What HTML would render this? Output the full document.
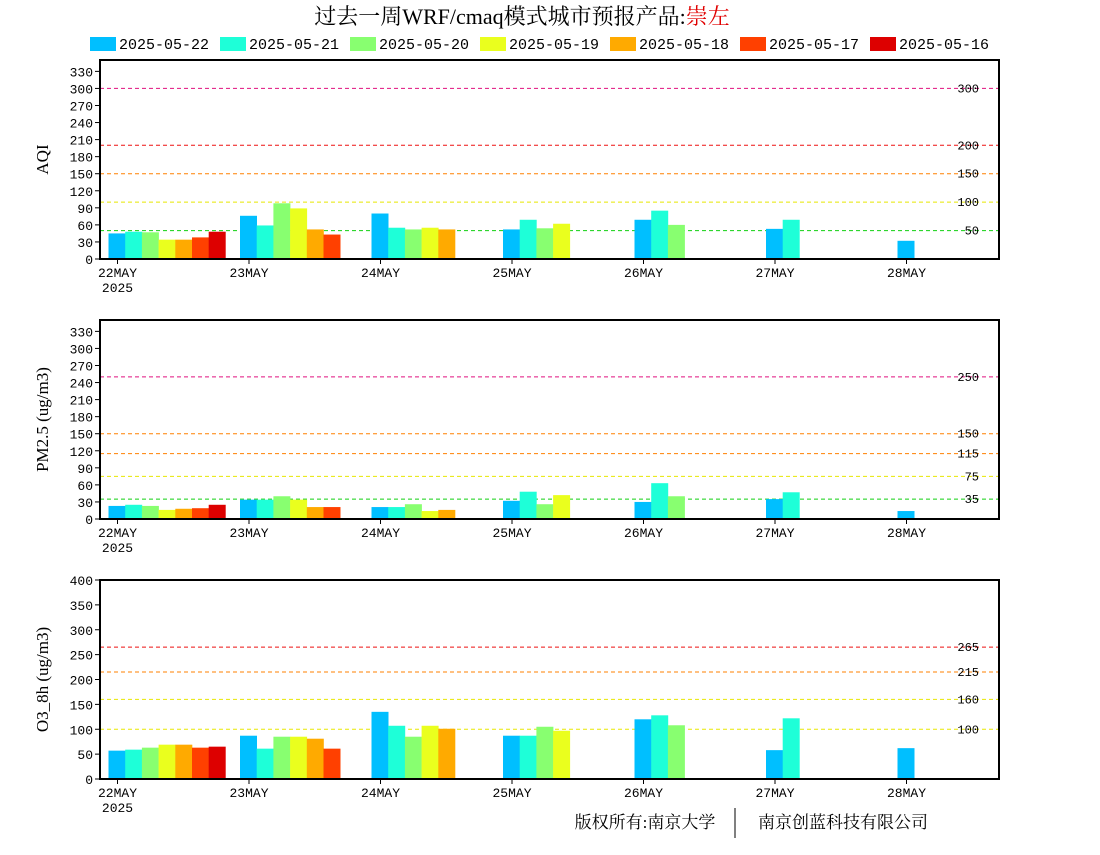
<!DOCTYPE html>
<html><head><meta charset="utf-8"><style>
body{margin:0;background:#fff;}
svg text{font-family:"Liberation Mono","DejaVu Sans Mono",monospace;}
</style></head><body>
<svg id="c" width="1100" height="850" xmlns="http://www.w3.org/2000/svg">
<text x="522" y="24" text-anchor="middle" font-size="22" style="font-family:'Liberation Serif','Noto Serif CJK SC',serif">过去一周WRF/cmaq模式城市预报产品:<tspan fill="#e00000">崇左</tspan></text>
<g id="legend"></g>
<g id="panels"></g>
<text x="645" y="828" text-anchor="middle" font-size="17" style="font-family:'Liberation Serif','Noto Serif CJK SC',serif">版权所有:南京大学</text>
<line x1="735" y1="808" x2="735" y2="838" stroke="#000"/>
<text x="843" y="828" text-anchor="middle" font-size="17" style="font-family:'Liberation Serif','Noto Serif CJK SC',serif">南京创蓝科技有限公司</text>
</svg>
<script>
const seriesNames=["2025-05-22","2025-05-21","2025-05-20","2025-05-19","2025-05-18","2025-05-17","2025-05-16"];
const seriesColors=["#00bfff","#1effd8","#88ff70","#eaff1e","#ffaa00","#ff4000","#dd0000"];
const days=["22MAY","23MAY","24MAY","25MAY","26MAY","27MAY","28MAY"];
// values[day][series]
const aqiValues=[[45,48,47,34,34,38,48],[76,59,98,89,52,43],[80,55,52,55,52],[52,69,54,62],[69,85,60],[53,69],[32]];
const pmValues=[[23,25,23,16,18,19,25],[34,34,40,34,21,21],[21,21,26,14,16],[32,48,26,42],[30,63,40],[35,47],[14]];
const o3Values=[[57,59,63,69,69,63,65],[87,61,85,85,81,61],[135,107,85,107,101],[87,87,105,97],[120,128,108],[58,122],[62]];
const aqiTicks=[0,30,60,90,120,150,180,210,240,270,300,330];
const pmTicks=[0,30,60,90,120,150,180,210,240,270,300,330];
const o3Ticks=[0,50,100,150,200,250,300,350,400];
const aqiLevels=[300,200,150,100,50];
const pmLevels=[250,150,115,75,35];
const o3Levels=[265,215,160,100];
const levelColors={300:"#e0107f",250:"#e0107f",265:"#ee1010",200:"#ee1010",150:"#ff8000",215:"#ff8000",115:"#ff8000",100:"#e8e800",160:"#e8e800",75:"#e8e800",50:"#10d010",35:"#10d010"};
const NS="http://www.w3.org/2000/svg";
const svg=document.getElementById('c');
function mk(tag,attrs,parent,text){const e=document.createElementNS(NS,tag);for(const k in attrs)e.setAttribute(k,attrs[k]);if(text!==undefined)e.textContent=text;parent.appendChild(e);return e;}
// legend
const lg=document.getElementById('legend');
seriesNames.forEach((n,i)=>{
  const x=90+i*130;
  const r=mk('rect',{x:x,y:37,width:26,height:14,fill:seriesColors[i]},lg);
  
  
  const t=mk('text',{x:x+29,y:49,'font-size':15},lg,n);
  
  
});
const X0=100,X1=999,tick0=117.5,daySp=131.5,barW=16.7;
function panel(name,top,ymax,ticks,levels,vals,ylabel){
  const bot=top+199;
  const g=mk('g',{},svg);
  
  
  const y=v=>bot-(v/ymax)*(bot-top);
  const xd=d=>tick0+d*daySp;
  levels.forEach(l=>{
    const ln=mk('line',{x1:X0,x2:X1,y1:y(l),y2:y(l),stroke:levelColors[l],'stroke-dasharray':'4,3','stroke-width':1},g);
    
    
    const t=mk('text',{x:979,y:y(l)+4,'font-size':12,'text-anchor':'end'},g,String(l));
    
    
  });
  vals.forEach((arr,d)=>{arr.forEach((v,s)=>{
    const b=mk('rect',{x:xd(d)-9+s*barW,y:y(v),width:barW+0.3,height:bot-y(v),fill:seriesColors[s]},g);
    
    
  });});
  const fr=mk('rect',{x:X0,y:top,width:X1-X0,height:bot-top,fill:'none',stroke:'#000','stroke-width':2},g);
  
  
  ticks.forEach(t=>{
    mk('line',{x1:X0-5,x2:X0,y1:y(t),y2:y(t),stroke:'#000'},g);
    const tx=mk('text',{x:X0-7,y:y(t)+5,'font-size':13,'text-anchor':'end'},g,String(t));
    
    
  });
  days.forEach((d,i)=>{
    mk('line',{x1:xd(i),x2:xd(i),y1:bot,y2:bot+5,stroke:'#000'},g);
    const tx=mk('text',{x:xd(i),y:bot+18,'font-size':13,'text-anchor':'middle'},g,d);
    
    
  });
  const yr=mk('text',{x:tick0,y:bot+33,'font-size':13,'text-anchor':'middle'},g,'2025');
  
  
  const cy=(top+bot)/2;
  const yl=mk('text',{x:48,y:cy,'font-size':17,'text-anchor':'middle',transform:'rotate(-90 48 '+cy+')',style:"font-family:'Liberation Serif',serif"},g,ylabel);
  
  
}
panel('aqi',60,350,aqiTicks,aqiLevels,aqiValues,'AQI');
panel('pm25',320,350,pmTicks,pmLevels,pmValues,'PM2.5 (ug/m3)');
panel('o3',580,400,o3Ticks,o3Levels,o3Values,'O3_8h (ug/m3)');
</script>
</body></html>
